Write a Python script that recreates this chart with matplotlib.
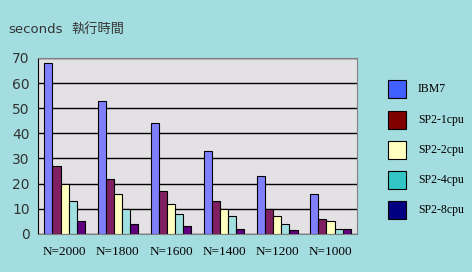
import matplotlib
matplotlib.use("Agg")
import matplotlib.pyplot as plt
from matplotlib.patches import Rectangle
import numpy as np

categories = ["N=2000", "N=1800", "N=1600", "N=1400", "N=1200", "N=1000"]
series_names = ["IBM7", "SP2-1cpu", "SP2-2cpu", "SP2-4cpu", "SP2-8cpu"]
ibm7 = [68, 53, 44, 33, 23, 16]
sp2_1 = [27, 22, 17, 13, 10, 6]
sp2_2 = [20, 16, 12, 10, 7, 5]
sp2_4 = [13, 10, 8, 7, 4, 2]
sp2_8 = [5, 4, 3, 2, 1.5, 2]
yticks = [0, 10, 20, 30, 40, 50, 60, 70]

values = [ibm7, sp2_1, sp2_2, sp2_4, sp2_8]
bar_colors = ["#8080ff", "#802060", "#ffffc0", "#a0e0e0", "#600080"]
legend_colors = ["#4060ff", "#800000", "#ffffc0", "#33c6c6", "#000080"]

bg = "#a4dde0"
fig = plt.figure(figsize=(4.72, 2.72), dpi=100, facecolor=bg)
ax = fig.add_axes([0.0805, 0.14, 0.676, 0.647])
ax.set_facecolor("#e3e1e4")

x = np.arange(len(categories))
w = 0.152
for i, (vals, c) in enumerate(zip(values, bar_colors)):
    ax.bar(x + (i - 2) * w, vals, width=w, color=c, edgecolor="black",
           linewidth=0.8, zorder=3)

ax.set_xlim(-0.5, len(categories) - 0.5)
ax.set_ylim(0, 70)
ax.set_yticks(yticks)
ax.set_yticklabels([str(t) for t in yticks], fontsize=10, family="DejaVu Sans", color="#333333")
ax.set_xticks(x)
ax.set_xticklabels(categories, fontsize=9.5, family="Liberation Serif")
ax.tick_params(axis="both", length=0, pad=6)
ax.tick_params(axis="x", pad=9)
ax.yaxis.grid(True, color="black", linewidth=1.0, zorder=0)
ax.set_axisbelow(True)
for s in ["top", "right", "bottom"]:
    ax.spines[s].set_color("#808080")
ax.spines["left"].set_color("black")

fig.text(8 / 472, 1 - 33 / 272, "seconds", fontsize=9.5, family="DejaVu Sans",
         color="#333333", va="baseline")
fig.text(71 / 472, 1 - 33 / 272, "執行時間", fontsize=9.5,
         family=["Noto Sans CJK TC", "DejaVu Sans"], color="#333333", va="baseline")

# legend
ys = [89, 120, 150, 180, 210]
for name, c, yc in zip(series_names, legend_colors, ys):
    fig.patches.append(Rectangle((388 / 472, 1 - (yc + 9) / 272), 18 / 472, 18 / 272,
                                 transform=fig.transFigure, facecolor=c,
                                 edgecolor="black", linewidth=0.8))
    fig.text(418 / 472, 1 - yc / 272, name, fontsize=8.5, family="Liberation Serif",
             va="center", ha="left")

fig.savefig("out.png", dpi=100, facecolor=bg)
